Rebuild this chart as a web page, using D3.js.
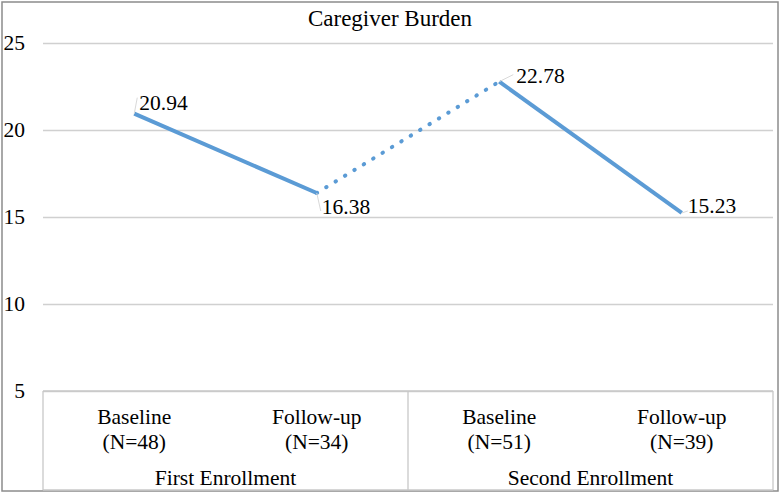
<!DOCTYPE html>
<html>
<head>
<meta charset="utf-8">
<script src="https://cdn.jsdelivr.net/npm/d3@7"></script>
<style>
  html, body { margin: 0; padding: 0; background: #fff; }
  svg text { font-family: 'Liberation Serif', 'Times New Roman', Times, serif; fill: #000; }
</style>
</head>
<body>
<div id="chart"></div>
<script>
var categories = ["Baseline", "Follow-up", "Baseline", "Follow-up"];
var sample_sizes = ["(N=48)", "(N=34)", "(N=51)", "(N=39)"];
var enrollments = ["First Enrollment", "Second Enrollment"];
var burden = [20.94, 16.38, 22.78, 15.23];
var y_ticks = [5, 10, 15, 20, 25];

var width = 780, height = 494;
var plot_left = 43, plot_right = 773, plot_top = 43, plot_bottom = 391, box_bottom = 490;
var blue = "#5b9bd5";
var serif = "'Liberation Serif', 'Times New Roman', Times, serif";

var svg = d3.select("#chart").append("svg")
    .attr("width", width)
    .attr("height", height)
    .style("font-family", serif);

// outer frame
svg.append("rect")
    .attr("x", 2).attr("y", 2)
    .attr("width", 776).attr("height", 489)
    .attr("fill", "none")
    .attr("stroke", "#8c8c8c")
    .attr("stroke-width", 1.5);

var x = d3.scaleBand()
    .domain(d3.range(categories.length))
    .range([plot_left, plot_right])
    .padding(0);

var y = d3.scaleLinear()
    .domain([5, 25])
    .range([plot_bottom, plot_top]);

function cx(i){ return x(i) + x.bandwidth()/2; }

// y axis + gridlines
var yAxis = svg.append("g")
    .attr("transform", "translate(" + plot_left + ",0)")
    .call(d3.axisLeft(y).tickValues(y_ticks).tickSize(-(plot_right - plot_left)).tickPadding(18));

yAxis.attr("font-family", null);
yAxis.select(".domain").remove();
yAxis.selectAll(".tick line")
    .attr("stroke", "#d0d0d0")
    .attr("stroke-width", 1.3);
yAxis.selectAll(".tick text")
    .attr("font-size", 21.5)
    .style("font-family", serif)
    .attr("fill", "#000");

// category box at the bottom
var box = svg.append("g").attr("stroke", "#c8c8c8").attr("stroke-width", 1.3);
box.append("line").attr("x1", plot_left).attr("x2", plot_right).attr("y1", plot_bottom).attr("y2", plot_bottom);
box.append("line").attr("x1", plot_left).attr("x2", plot_right).attr("y1", box_bottom).attr("y2", box_bottom);
[0, 2, 4].forEach(function(i){
    var xx = (i < categories.length) ? x(i) : plot_right;
    box.append("line").attr("x1", xx).attr("x2", xx).attr("y1", plot_bottom).attr("y2", box_bottom);
});

svg.selectAll(".cat")
    .data(categories)
    .enter()
    .append("text")
    .attr("class", "cat")
    .attr("x", (d, i) => cx(i))
    .attr("y", 424)
    .attr("text-anchor", "middle")
    .attr("font-size", 21.5)
    .text(d => d);

svg.selectAll(".nsize")
    .data(sample_sizes)
    .enter()
    .append("text")
    .attr("class", "nsize")
    .attr("x", (d, i) => cx(i))
    .attr("y", 449)
    .attr("text-anchor", "middle")
    .attr("font-size", 21.5)
    .text(d => d);

svg.selectAll(".group")
    .data(enrollments)
    .enter()
    .append("text")
    .attr("class", "group")
    .attr("x", (d, i) => (x(i*2) + x(i*2 + 1) + x.bandwidth())/2)
    .attr("y", 485)
    .attr("text-anchor", "middle")
    .attr("font-size", 21.5)
    .text(d => d);

// title
svg.append("text")
    .attr("x", 390)
    .attr("y", 26)
    .attr("text-anchor", "middle")
    .attr("font-size", 23)
    .text("Caregiver Burden");

// lines: solid inside an enrollment, dotted between them
var line = d3.line()
    .x(d => cx(d))
    .y(d => y(burden[d]));

var segments = [
    {idx: [0, 1], dotted: false},
    {idx: [1, 2], dotted: true},
    {idx: [2, 3], dotted: false},
];

svg.selectAll(".seg")
    .data(segments)
    .enter()
    .append("path")
    .attr("class", "seg")
    .attr("d", d => line(d.idx))
    .attr("fill", "none")
    .attr("stroke", blue)
    .attr("stroke-width", 4)
    .attr("stroke-linecap", d => d.dotted ? "round" : "butt")
    .attr("stroke-dasharray", d => d.dotted ? "0.5 10.5" : null);

// data labels with leader lines
// offset of label start (dx, dy) from the point, per point
var label_offset = [[5, -4], [5, 21], [17, 1], [6, 0]];
var leader_end = [[3, -16], [4, 18], [14, -7], [6, -2]];

var fmt = d3.format(".2f");

svg.selectAll(".leader")
    .data(burden)
    .enter()
    .append("line")
    .attr("class", "leader")
    .attr("x1", (d, i) => cx(i))
    .attr("y1", d => y(d))
    .attr("x2", (d, i) => cx(i) + leader_end[i][0])
    .attr("y2", (d, i) => y(d) + leader_end[i][1])
    .attr("stroke", "#d9d9d9")
    .attr("stroke-width", 1);

svg.selectAll(".val")
    .data(burden)
    .enter()
    .append("text")
    .attr("class", "val")
    .attr("x", (d, i) => cx(i) + label_offset[i][0])
    .attr("y", (d, i) => y(d) + label_offset[i][1])
    .attr("font-size", 21.5)
    .text(d => fmt(d));
</script>
</body>
</html>
